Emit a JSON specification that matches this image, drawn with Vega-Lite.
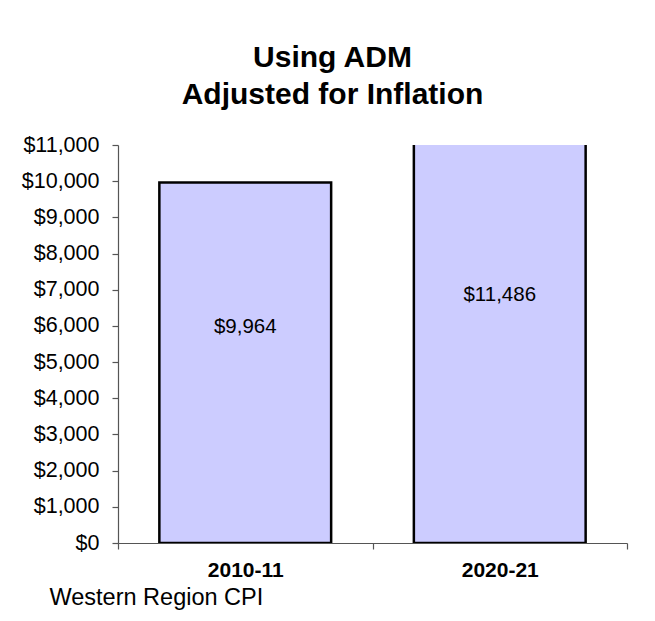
{
  "$schema": "https://vega.github.io/schema/vega-lite/v6.json",
  "autosize": "none",
  "width": 509,
  "height": 398,
  "padding": {"left": 118, "top": 145, "right": 28, "bottom": 78},
  "background": "white",
  "config": {
    "font": "Liberation Sans",
    "view": {"stroke": null}
  },
  "title": {
    "text": ["Using ADM", "Adjusted for Inflation"],
    "font": "Liberation Sans",
    "fontSize": 30,
    "fontWeight": "bold",
    "lineHeight": 37,
    "color": "black",
    "anchor": "middle",
    "frame": "group",
    "dx": -40,
    "offset": 24
  },
  "data": {
    "values": [
      {"year": "2010-11", "value": 9964},
      {"year": "2020-21", "value": 11486}
    ]
  },
  "encoding": {
    "x": {
      "field": "year",
      "type": "nominal",
      "scale": {"paddingInner": 0, "paddingOuter": 0},
      "axis": {
        "title": "Western Region CPI",
        "titleAnchor": "start",
        "titleX": -69,
        "titleY": 54,
        "titleBaseline": "middle",
        "titleFontSize": 23.5,
        "titleFontWeight": "normal",
        "titleColor": "black",
        "titleFont": "Liberation Sans",
        "labelAngle": 0,
        "labelFontSize": 21,
        "labelFontWeight": "bold",
        "labelColor": "black",
        "labelFont": "Liberation Sans",
        "labelPadding": 10,
        "tickBand": "extent",
        "tickSize": 6,
        "tickColor": "#555555",
        "domainColor": "#555555",
        "domainWidth": 1.2,
        "tickWidth": 1.2,
        "grid": false
      }
    }
  },
  "layer": [
    {
      "mark": {"type": "bar", "fill": "#CCCCFF", "stroke": "black", "strokeWidth": 2.5, "width": {"band": 0.675}, "clip": true},
      "encoding": {
        "y": {
          "field": "value",
          "type": "quantitative",
          "scale": {"domain": [0, 11000], "nice": false},
          "axis": {
            "title": null,
            "format": "$,.0f",
            "tickCount": 11,
            "labelFontSize": 21.5,
            "labelColor": "black",
            "labelFont": "Liberation Sans",
            "labelPadding": 13,
            "tickSize": 6,
            "tickColor": "#555555",
            "domainColor": "#555555",
            "domainWidth": 1.2,
            "tickWidth": 1.2,
            "grid": false
          }
        }
      }
    },
    {
      "mark": {"type": "text", "fontSize": 20.5, "color": "black", "baseline": "middle", "align": "center", "font": "Liberation Sans"},
      "encoding": {
        "y": {
          "field": "value",
          "type": "quantitative",
          "scale": {"domain": [0, 18400], "nice": false},
          "axis": null
        },
        "text": {"field": "value", "type": "quantitative", "format": "$,.0f"}
      }
    }
  ],
  "resolve": {"scale": {"y": "independent"}}
}
